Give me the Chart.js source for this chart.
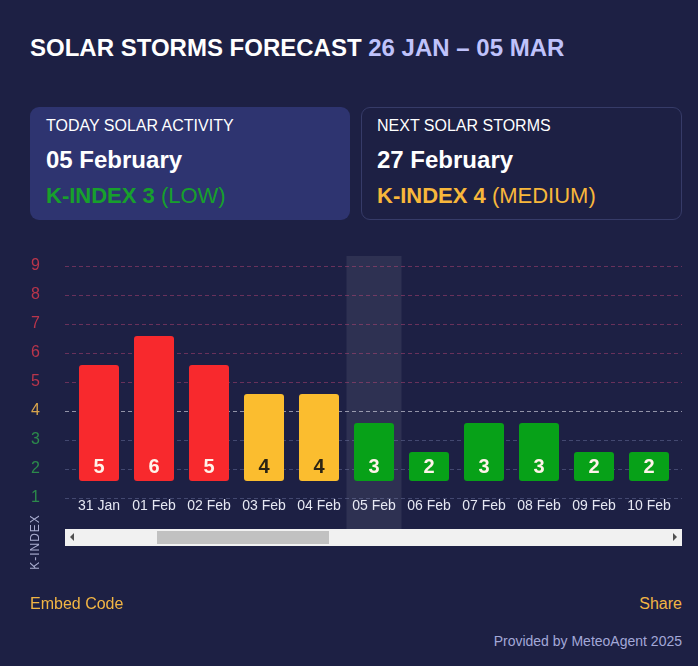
<!DOCTYPE html>
<html>
<head>
<meta charset="utf-8">
<script src="https://cdn.jsdelivr.net/npm/chart.js@4.4.1/dist/chart.umd.min.js"></script>
<style>
  html, body { margin: 0; padding: 0; }
  body {
    width: 698px; height: 666px; position: relative; overflow: hidden;
    background: #1d2044; color: #fff;
    font-family: "Liberation Sans", Arial, sans-serif;
  }
  .abs { position: absolute; white-space: nowrap; }
  .title { left: 30px; top: 36px; font-size: 24px; line-height: 24px; font-weight: bold; }
  .title span { color: #bfc2fb; }
  .box { position: absolute; top: 107px; height: 113px; border-radius: 9px; box-sizing: border-box; }
  .box.today { left: 30px; width: 320px; background: #2e3470; }
  .box.next { left: 361px; width: 321px; border: 1px solid #363b68; }
  .cap { font-size: 16px; line-height: 16px; }
  .date { font-size: 24px; line-height: 24px; font-weight: bold; }
  .kidx { font-size: 22px; line-height: 22px; }
  .kidx b { font-weight: bold; }
  .low { color: #17a02c; }
  .med { color: #f8b73b; }
  #chartWrap { position: absolute; left: 0; top: 250px; width: 698px; height: 280px; }
  .scroll { left: 65px; top: 529px; width: 617px; height: 17px; background: #f1f1f1; }
  .thumb { left: 157px; top: 531px; width: 172px; height: 13px; background: #c1c1c1; }
  .arrow { width: 0; height: 0; border-top: 4px solid transparent; border-bottom: 4px solid transparent; }
  .arrow.l { left: 70px; top: 533px; border-right: 4px solid #505050; }
  .arrow.r { left: 673px; top: 533px; border-left: 4px solid #505050; }
  .axisTitle { left: 35px; top: 542px; font-size: 12px; line-height: 12px; letter-spacing: 1px;
    color: #a9add0; transform: translate(-50%, -50%) rotate(-90deg); }
  .link { top: 596px; font-size: 16px; line-height: 16px; color: #f2b544; }
  .credit { right: 16px; top: 634px; font-size: 14px; line-height: 14px; color: #a3a8d8; }
</style>
</head>
<body>
<div class="abs title">SOLAR STORMS FORECAST <span>26 JAN – 05 MAR</span></div>

<div class="box today"></div>
<div class="box next"></div>
<div class="abs cap" style="left:46px; top:118px;">TODAY SOLAR ACTIVITY</div>
<div class="abs date" style="left:46px; top:148px;">05 February</div>
<div class="abs kidx low" style="left:46px; top:185px;"><b>K-INDEX 3</b> (LOW)</div>
<div class="abs cap" style="left:377px; top:118px;">NEXT SOLAR STORMS</div>
<div class="abs date" style="left:377px; top:148px;">27 February</div>
<div class="abs kidx med" style="left:377px; top:185px;"><b>K-INDEX 4</b> (MEDIUM)</div>

<div id="chartWrap"><canvas id="kindex_chart" width="698" height="280"></canvas></div>

<div class="abs scroll"></div>
<div class="abs thumb"></div>
<div class="abs arrow l"></div>
<div class="abs arrow r"></div>
<div class="abs axisTitle">K-INDEX</div>

<div class="abs link" style="left:30px;">Embed Code</div>
<div class="abs link" style="right:16px;">Share</div>
<div class="abs credit">Provided by MeteoAgent 2025</div>

<script>
// visible part of the forecast
const day_labels = ["31 Jan", "01 Feb", "02 Feb", "03 Feb", "04 Feb", "05 Feb", "06 Feb", "07 Feb", "08 Feb", "09 Feb", "10 Feb"];
const k_index = [5, 6, 5, 4, 4, 3, 2, 3, 3, 2, 2];
const y_tick_values = [1, 2, 3, 4, 5, 6, 7, 8, 9];
const today_label = "05 Feb";

const FONT = "'Liberation Sans', Arial, sans-serif";

function bar_color(k)
{
    if (k >= 5) return "#f8292d";
    if (k === 4) return "#fbbd2f";
    return "#07a118";
}

function tick_color(k)
{
    if (k >= 5) return "#b9354b";
    if (k === 4) return "#d8a44c";
    return "#2c8a4b";
}

function grid_color(k)
{
    if (k >= 5) return "rgba(200, 70, 120, 0.45)";
    if (k === 4) return "rgba(225, 225, 235, 0.6)";
    return "rgba(140, 150, 195, 0.35)";
}

// highlight column + dashed grid across the full scroll width
const backdrop_plugin =
{
    id: "backdrop",
    beforeDatasetsDraw(chart)
    {
        const ctx = chart.ctx;
        const x = chart.scales.x;
        const y = chart.scales.y;
        const step = x.getPixelForValue(1) - x.getPixelForValue(0);
        const today_index = day_labels.indexOf(today_label);

        ctx.save();
        ctx.fillStyle = "rgba(255, 255, 255, 0.08)";
        const cx = x.getPixelForValue(today_index);
        ctx.fillRect(cx - step / 2, chart.chartArea.top, step, chart.height - chart.chartArea.top);

        ctx.lineWidth = 1;
        ctx.setLineDash([4, 3]);
        y_tick_values.forEach(v =>
        {
            const py = Math.round(y.getPixelForValue(v)) + 0.5;
            ctx.strokeStyle = grid_color(v);
            ctx.beginPath();
            ctx.moveTo(65, py);
            ctx.lineTo(682, py);
            ctx.stroke();
        });
        ctx.restore();
    }
};

// k-index numbers near the foot of each bar
const value_label_plugin =
{
    id: "valueLabels",
    afterDatasetsDraw(chart)
    {
        const ctx = chart.ctx;
        const meta = chart.getDatasetMeta(0);
        const base_y = chart.scales.yb.getPixelForValue(1);

        ctx.save();
        ctx.font = "bold 20px " + FONT;
        ctx.textAlign = "center";
        ctx.textBaseline = "middle";
        meta.data.forEach((bar, i) =>
        {
            const k = k_index[i];
            ctx.fillStyle = k === 4 ? "#2b2414" : "#fff3ea";
            ctx.fillText(String(k), bar.x, base_y - 14);
        });
        ctx.restore();
    }
};

const kindex_chart = new Chart("kindex_chart",
{
    type: "bar",
    data:
    {
        labels: day_labels,
        datasets:
        [
            {
                label: "K-Index",
                data: k_index.map(k => [1, k]),
                yAxisID: "yb",
                backgroundColor: k_index.map(bar_color),
                borderRadius: 3,
                borderSkipped: false,
                categoryPercentage: 1,
                barPercentage: 40 / 55
            }
        ]
    },
    options:
    {
        responsive: false,
        animation: false,
        layout:
        {
            padding: { top: 6, right: 21.5, bottom: 0, left: 0 }
        },
        plugins:
        {
            legend: { display: false },
            tooltip: { enabled: false }
        },
        scales:
        {
            x:
            {
                grid: { display: false, drawTicks: false },
                border: { display: false },
                ticks:
                {
                    color: "#e6e8f3",
                    font: { size: 14, family: FONT },
                    padding: 0,
                    maxRotation: 0,
                    autoSkip: false
                },
                afterFit(scale) { scale.height = 32; }
            },
            y:
            {
                position: "left",
                min: 1,
                max: 9.345,
                grid: { display: false, drawTicks: false },
                border: { display: false },
                afterBuildTicks(scale) { scale.ticks = y_tick_values.map(v => ({ value: v })); },
                ticks:
                {
                    color: ctx => tick_color(ctx.tick.value),
                    font: { size: 16, family: FONT },
                    padding: 31.5
                },
                afterFit(scale)
                {
                    scale.width = 71.5;
                    scale.paddingTop = 0;
                    scale.paddingBottom = 0;
                }
            },
            yb:
            {
                display: false,
                min: 0.414,
                max: 8.759
            }
        }
    },
    plugins: [backdrop_plugin, value_label_plugin]
});
</script>
</body>
</html>
